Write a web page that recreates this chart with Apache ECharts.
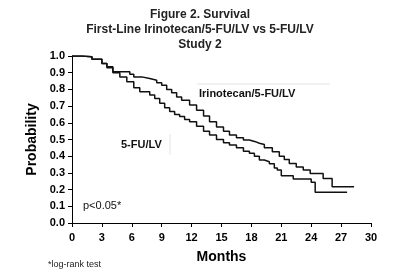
<!DOCTYPE html>
<html>
<head>
<meta charset="utf-8">
<script src="https://cdn.jsdelivr.net/npm/echarts@6/dist/echarts.min.js"></script>
<style>
  html, body { margin: 0; padding: 0; background: #fff; }
  #chart { width: 400px; height: 274px; }
</style>
</head>
<body>
<div id="chart"></div>
<script>
// Kaplan-Meier estimates: [month, probability]
const irinotecanCurve = [
  [0, 1.0], [1, 0.995], [2, 0.98], [3, 0.955], [3.5, 0.93], [4.1, 0.905],
  [5.8, 0.89], [6.2, 0.875], [7, 0.865], [7.8, 0.855], [8.5, 0.84], [9, 0.825],
  [9.5, 0.8], [10, 0.78], [10.5, 0.755], [11, 0.735], [11.8, 0.707], [12.5, 0.675],
  [13.2, 0.64], [13.8, 0.607], [14.5, 0.575], [15.2, 0.55], [15.8, 0.527],
  [16.5, 0.51], [17.2, 0.497], [17.8, 0.487], [18.4, 0.478], [18.8, 0.47],
  [19.3, 0.45], [20.1, 0.427], [20.8, 0.4], [21.3, 0.38], [21.8, 0.357],
  [22.5, 0.335], [23.2, 0.317], [23.9, 0.297], [25.2, 0.267], [26.1, 0.217],
  [28.3, 0.217]
]
const fuLvCurve = [
  [0, 1.0], [1, 0.995], [2, 0.98], [3, 0.955], [3.5, 0.935], [4.1, 0.9],
  [4.8, 0.875], [5.5, 0.846], [6.2, 0.81], [6.8, 0.786], [7.8, 0.766],
  [8.3, 0.745], [8.8, 0.717], [9.3, 0.69], [9.8, 0.667], [10.3, 0.65],
  [10.8, 0.637], [11.3, 0.62], [11.8, 0.607], [12.5, 0.58], [13.2, 0.55],
  [13.8, 0.527], [14.5, 0.5], [15.2, 0.48], [15.8, 0.467], [16.5, 0.45],
  [17.2, 0.43], [17.8, 0.417], [18.3, 0.4], [18.8, 0.377], [19.3, 0.367],
  [19.8, 0.355], [20.3, 0.33], [20.6, 0.317], [21.0, 0.283], [22.2, 0.263],
  [24.0, 0.244], [24.4, 0.184], [27.6, 0.184]
]
const monthTicks = [0, 3, 6, 9, 12, 15, 18, 21, 24, 27, 30]
const probTicks = [0, 0.1, 0.2, 0.3, 0.4, 0.5, 0.6, 0.7, 0.8, 0.9, 1.0]
const titleLines = ['Figure 2. Survival', 'First-Line Irinotecan/5-FU/LV vs 5-FU/LV', 'Study 2']

const font = '"Liberation Sans", Arial, sans-serif'
const chart = echarts.init(document.getElementById('chart'))

const axisCommon = {
  axisLine: { lineStyle: { color: '#000', width: 1 } },
  axisTick: { show: true, inside: false, length: 4, lineStyle: { color: '#000' } },
  splitLine: { show: false },
  axisLabel: { color: '#000', fontFamily: font, fontWeight: 'bold', fontSize: 11 }
}

chart.setOption({
  animation: false,
  backgroundColor: '#fff',
  title: {
    text: titleLines.join('\n'),
    left: 'center',
    top: 2,
    textStyle: { fontFamily: font, fontWeight: 'bold', fontSize: 12, lineHeight: 15, color: '#222' }
  },
  grid: { left: 72, right: 29, top: 56, bottom: 51 },
  xAxis: {
    type: 'value',
    min: monthTicks[0],
    max: monthTicks[monthTicks.length - 1],
    interval: 3,
    name: 'Months',
    nameLocation: 'middle',
    nameGap: 27,
    nameTextStyle: { fontFamily: font, fontWeight: 'bold', fontSize: 14, color: '#000' },
    ...axisCommon,
    axisLabel: { ...axisCommon.axisLabel, margin: 9 }
  },
  yAxis: {
    type: 'value',
    min: probTicks[0],
    max: probTicks[probTicks.length - 1],
    interval: 0.1,
    name: 'Probability',
    nameLocation: 'middle',
    nameGap: 32,
    nameTextStyle: { fontFamily: font, fontWeight: 'bold', fontSize: 14, color: '#000' },
    ...axisCommon,
    axisLabel: { ...axisCommon.axisLabel, margin: 7, formatter: v => v.toFixed(1) }
  },
  series: [
    {
      name: 'Irinotecan/5-FU/LV',
      type: 'line',
      step: 'end',
      showSymbol: false,
      data: irinotecanCurve,
      lineStyle: { color: '#111', width: 1.5 }
    },
    {
      name: '5-FU/LV',
      type: 'line',
      step: 'end',
      showSymbol: false,
      data: fuLvCurve,
      lineStyle: { color: '#111', width: 1.5 }
    }
  ],
  graphic: [
    { type: 'line', shape: { x1: 197, y1: 84, x2: 330, y2: 84 }, style: { stroke: '#e4e4e4', lineWidth: 1 } },
    { type: 'text', left: 199, top: 88, style: { text: 'Irinotecan/5-FU/LV', font: 'bold 11px ' + font, fill: '#111' } },
    { type: 'line', shape: { x1: 170, y1: 134, x2: 170, y2: 155 }, style: { stroke: '#e4e4e4', lineWidth: 1 } },
    { type: 'text', left: 121, top: 139, style: { text: '5-FU/LV', font: 'bold 11px ' + font, fill: '#111' } },
    { type: 'text', left: 83, top: 200, style: { text: 'p<0.05*', font: '11px ' + font, fill: '#111' } },
    { type: 'text', left: 48, top: 260, style: { text: '*log-rank test', font: '9px ' + font, fill: '#222' } }
  ]
})
</script>
</body>
</html>
